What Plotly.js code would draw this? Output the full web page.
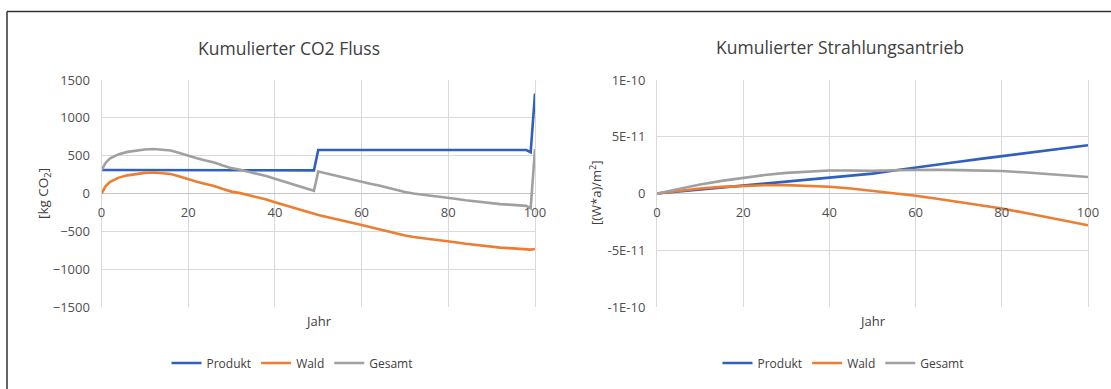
<!DOCTYPE html>
<html>
<head>
<meta charset="utf-8">
<script src="https://cdn.plot.ly/plotly-3.0.1.min.js"></script>
<style>
html,body{margin:0;padding:0;background:#fff;}
#chart{width:1111px;height:389px;}
</style>
</head>
<body>
<div id="chart"></div>
<script>
// ---- Left chart: Kumulierter CO2 Fluss [kg CO2] ----
const years = [0,1,2,4,6,8,10,12,14,16,18,20,22,24,26,28,30,32,34,36,38,40,42,44,46,48,49,50,
  52,54,56,58,60,62,64,66,68,70,72,74,76,78,80,82,84,86,88,90,92,94,96,98,99,100];
const produkt = [310,310,310,310,310,310,310,310,310,310,310,310,310,310,310,310,310,310,310,310,310,310,310,310,310,310,305,575,
  575,575,575,575,575,575,575,575,575,575,575,575,575,575,575,575,575,575,575,575,575,575,575,575,545,1320];
const wald = [0,100,155,210,240,260,272,278,272,258,225,185,155,125,100,60,25,5,-20,-45,-80,-115,-150,-185,-215,-255,-270,-285,
  -310,-340,-365,-390,-415,-445,-470,-500,-530,-555,-575,-595,-605,-618,-630,-648,-665,-680,-695,-705,-715,-722,-730,-738,-742,-733];
const gesamt = [310,410,465,520,550,570,582,588,582,568,535,495,465,435,410,370,335,315,290,265,230,195,160,125,95,55,35,290,
  265,235,210,185,160,130,105,75,45,20,0,-20,-30,-43,-55,-73,-90,-105,-120,-130,-140,-147,-155,-163,-197,587];

// ---- Right chart: Kumulierter Strahlungsantrieb [(W*a)/m2] ----
const years2 = [0,5,10,15,20,25,30,35,40,45,50,55,60,65,70,75,80,85,90,95,100];
const produkt2 = [0,0.17e-11,0.35e-11,0.53e-11,0.72e-11,0.9e-11,1.08e-11,1.25e-11,1.42e-11,1.58e-11,1.75e-11,
  2.02e-11,2.3e-11,2.55e-11,2.8e-11,3.05e-11,3.3e-11,3.55e-11,3.78e-11,4.02e-11,4.25e-11];
const wald2 = [0,0.25e-11,0.44e-11,0.58e-11,0.68e-11,0.73e-11,0.74e-11,0.7e-11,0.6e-11,0.44e-11,0.24e-11,
  0.03e-11,-0.2e-11,-0.46e-11,-0.74e-11,-1.02e-11,-1.32e-11,-1.68e-11,-2.06e-11,-2.43e-11,-2.8e-11];
const gesamt2 = [0,0.42e-11,0.79e-11,1.11e-11,1.4e-11,1.63e-11,1.82e-11,1.95e-11,2.02e-11,2.02e-11,1.99e-11,
  2.05e-11,2.1e-11,2.09e-11,2.06e-11,2.03e-11,1.98e-11,1.87e-11,1.72e-11,1.59e-11,1.45e-11];

// ---- Tick labels ----
const xTicks = [0,20,40,60,80,100];
const yTicksLeft = [-1500,-1000,-500,0,500,1000,1500];
const yTicksRight = [-1e-10,-5e-11,0,5e-11,1e-10];
const yTickTextRight = ['-1E-10','-5E-11','0','5E-11','1E-10'];
const seriesNames = ['Produkt','Wald','Gesamt'];
const colors = ['#2f5fbf','#ed7d31','#a0a0a0'];

const FONT = '"Open Sans", "Noto Sans", sans-serif';
const W = 1111, H = 389;
const px = v => v / W;
const py = v => (H - v) / H;

const xDomL = [px(101.5), px(535)];
const xDomR = [px(657), px(1088)];
const yDom = [py(307), py(80)];
const yMid = (yDom[0] + yDom[1]) / 2;

function tr(x, y, i, xa, ya, lg) {
  return {x: x, y: y, name: seriesNames[i], type: 'scatter', mode: 'lines',
    line: {color: colors[i], width: 2.6}, xaxis: xa, yaxis: ya, legend: lg, hoverinfo: 'skip'};
}

const data = [
  tr(years, produkt, 0, 'x', 'y', 'legend'),
  tr(years, wald, 1, 'x', 'y', 'legend'),
  tr(years, gesamt, 2, 'x', 'y', 'legend'),
  tr(years2, produkt2, 0, 'x2', 'y2', 'legend2'),
  tr(years2, wald2, 1, 'x2', 'y2', 'legend2'),
  tr(years2, gesamt2, 2, 'x2', 'y2', 'legend2')
];

const gridC = '#d9d9d9';
const tickFont = {family: FONT, size: 13, color: '#505050'};

function xAxis(dom) {
  return {domain: dom, range: [0, 100], tickvals: xTicks, showgrid: true, gridcolor: gridC, gridwidth: 1,
    zeroline: false, showline: false, anchor: 'free', position: yMid, ticks: '',
    tickfont: tickFont, ticklabelstandoff: 9, fixedrange: true};
}
function yAxis(range, tv, tt, anchor) {
  const a = {domain: yDom, range: range, tickvals: tv, showgrid: true, gridcolor: gridC, gridwidth: 1,
    zeroline: true, zerolinecolor: '#c4c4c4', zerolinewidth: 1.2,
    showline: true, mirror: true, linecolor: gridC, linewidth: 1, anchor: anchor, ticks: '',
    tickfont: tickFont, ticklabelstandoff: 8, fixedrange: true};
  if (tt) a.ticktext = tt;
  return a;
}

const legendBase = {orientation: 'h', xanchor: 'center', yanchor: 'middle', y: py(363),
  font: {family: FONT, size: 12, color: '#404040'}, bgcolor: 'rgba(0,0,0,0)', itemwidth: 30, traceorder: 'normal'};

const layout = {
  width: W, height: H,
  margin: {l: 0, r: 0, t: 0, b: 0, pad: 0},
  paper_bgcolor: '#fff', plot_bgcolor: '#fff',
  showlegend: true,
  xaxis: xAxis(xDomL),
  yaxis: yAxis([-1500, 1500], yTicksLeft, null, 'x'),
  xaxis2: xAxis(xDomR),
  yaxis2: yAxis([-1e-10, 1e-10], yTicksRight, yTickTextRight, 'x2'),
  legend: Object.assign({}, legendBase, {x: px(292)}),
  legend2: Object.assign({}, legendBase, {x: px(843)}),
  annotations: [
    {text: 'Kumulierter CO2 Fluss', x: px(289), y: py(48), xref: 'paper', yref: 'paper',
      showarrow: false, xanchor: 'center', yanchor: 'middle', font: {family: FONT, size: 17.5, color: '#404040'}},
    {text: 'Kumulierter Strahlungsantrieb', x: px(840), y: py(47), xref: 'paper', yref: 'paper',
      showarrow: false, xanchor: 'center', yanchor: 'middle', font: {family: FONT, size: 17.5, color: '#404040'}},
    {text: 'Jahr', x: px(318), y: py(321), xref: 'paper', yref: 'paper',
      showarrow: false, xanchor: 'center', yanchor: 'middle', font: {family: FONT, size: 13, color: '#404040'}},
    {text: 'Jahr', x: px(872), y: py(321), xref: 'paper', yref: 'paper',
      showarrow: false, xanchor: 'center', yanchor: 'middle', font: {family: FONT, size: 13, color: '#404040'}},
    {text: '[kg CO<sub>2</sub>]', x: px(44), y: py(194), xref: 'paper', yref: 'paper', textangle: -90,
      showarrow: false, xanchor: 'center', yanchor: 'middle', font: {family: FONT, size: 13.5, color: '#404040'}},
    {text: '[(W*a)/m<sup>2</sup>]', x: px(595), y: py(193), xref: 'paper', yref: 'paper', textangle: -90,
      showarrow: false, xanchor: 'center', yanchor: 'middle', font: {family: FONT, size: 13, color: '#404040'}}
  ],
  shapes: [
    {type: 'line', xref: 'paper', yref: 'paper', x0: px(7), x1: px(7), y0: 0, y1: py(11.5),
      line: {color: '#333', width: 1.5}},
    {type: 'line', xref: 'paper', yref: 'paper', x0: px(7), x1: 1, y0: py(11.5), y1: py(11.5),
      line: {color: '#333', width: 1.5}}
  ]
};

Plotly.newPlot('chart', data, layout, {displayModeBar: false, staticPlot: true});
</script>
</body>
</html>
